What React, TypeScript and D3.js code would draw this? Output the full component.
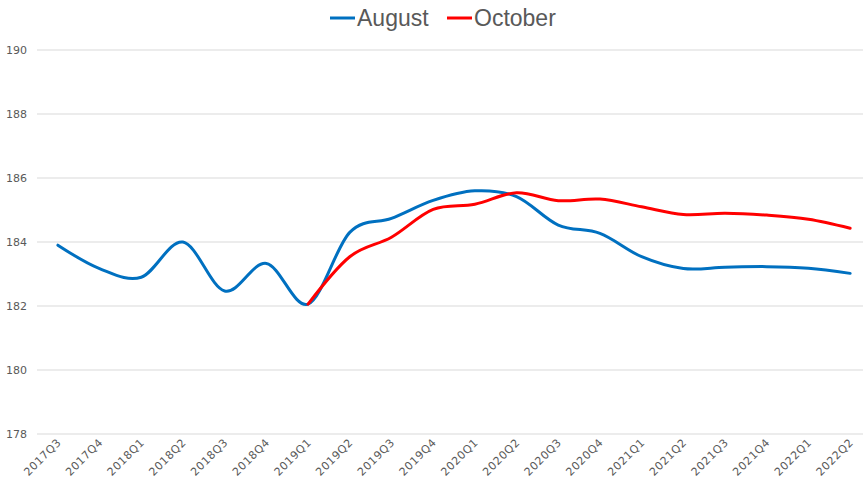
import React from "react";
import * as d3 from "d3";

const categories = ["2017Q3","2017Q4","2018Q1","2018Q2","2018Q3","2018Q4","2019Q1","2019Q2","2019Q3","2019Q4","2020Q1","2020Q2","2020Q3","2020Q4","2021Q1","2021Q2","2021Q3","2021Q4","2022Q1","2022Q2"];
const august: (number | null)[] = [183.9,183.17,182.9,184.0,182.47,183.33,182.06,184.3,184.74,185.3,185.6,185.42,184.53,184.27,183.54,183.17,183.21,183.23,183.18,183.02];
const october: (number | null)[] = [null,null,null,null,null,null,182.06,183.54,184.15,185.02,185.18,185.54,185.29,185.34,185.1,184.86,184.9,184.84,184.71,184.43];
const yTicks = [178,180,182,184,186,188,190];

const W = 863, H = 479;
const left = 37, right = 871, top = 50, bottom = 434;

export default function App() {
  const x = d3.scaleBand<string>().domain(categories).range([left, right]);
  const y = d3.scaleLinear().domain([178, 190]).range([bottom, top]);
  const cx = (c: string) => (x(c) as number) + x.bandwidth() / 2;
  const line = d3.line<[string, number | null]>()
    .defined(d => d[1] != null)
    .x(d => cx(d[0]))
    .y(d => y(d[1] as number))
    .curve(d3.curveCardinal.tension(0));
  const series = [
    { name: "August", values: august, color: "#0070C0" },
    { name: "October", values: october, color: "#FF0000" },
  ];
  const legend = [
    { name: "August", color: "#0070C0", x: 330 },
    { name: "October", color: "#FF0000", x: 447 },
  ];
  return (
    <svg width={W} height={H} style={{ position: "absolute", left: 0, top: 0 }}>
      <rect width={W} height={H} fill="#fff" />
      {yTicks.map(t => (
        <g key={t}>
          <line x1={left} x2={W} y1={y(t)} y2={y(t)} stroke="#d9d9d9" strokeWidth={1} />
          <text x={27} y={y(t) + 4} textAnchor="end" fontFamily="DejaVu Sans" fontSize={11} fill="#595959">{t}</text>
        </g>
      ))}
      {categories.map(c => (
        <text key={c} transform={`translate(${cx(c) + 4},${bottom + 9}) rotate(-45)`} textAnchor="end"
          fontFamily="DejaVu Sans" fontSize={11} letterSpacing={0.6} fill="#595959">{c}</text>
      ))}
      {series.map(s => (
        <path key={s.name} d={line(categories.map((c, i) => [c, s.values[i]] as [string, number | null])) || ""}
          fill="none" stroke={s.color} strokeWidth={3} strokeLinecap="round" strokeLinejoin="round" />
      ))}
      {legend.map(l => (
        <g key={l.name}>
          <line x1={l.x} x2={l.x + 25} y1={18} y2={18} stroke={l.color} strokeWidth={3} />
          <text x={l.x + 27} y={26} fontFamily="Liberation Sans" fontSize={23} fill="#595959">{l.name}</text>
        </g>
      ))}
    </svg>
  );
}
